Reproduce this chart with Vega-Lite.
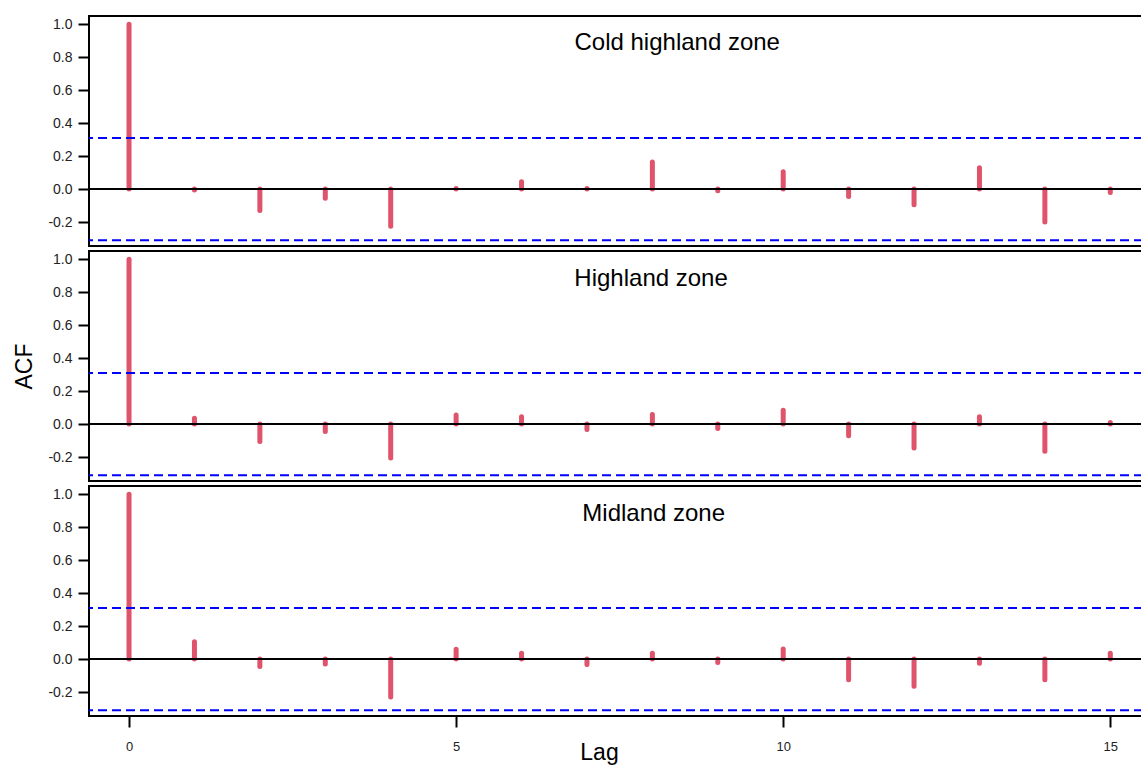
{
  "$schema": "https://vega.github.io/schema/vega-lite/v6.json",
  "background": "white",
  "padding": {"left": 12, "top": 15, "right": 0, "bottom": 0},
  "spacing": 3,
  "datasets": {
    "acf": [
      {"zone": "Cold highland zone", "lag": 0, "acf": 1.0},
      {"zone": "Cold highland zone", "lag": 1, "acf": -0.005},
      {"zone": "Cold highland zone", "lag": 2, "acf": -0.13},
      {"zone": "Cold highland zone", "lag": 3, "acf": -0.055},
      {"zone": "Cold highland zone", "lag": 4, "acf": -0.225},
      {"zone": "Cold highland zone", "lag": 5, "acf": 0.003},
      {"zone": "Cold highland zone", "lag": 6, "acf": 0.045},
      {"zone": "Cold highland zone", "lag": 7, "acf": 0.003},
      {"zone": "Cold highland zone", "lag": 8, "acf": 0.165},
      {"zone": "Cold highland zone", "lag": 9, "acf": -0.01},
      {"zone": "Cold highland zone", "lag": 10, "acf": 0.105},
      {"zone": "Cold highland zone", "lag": 11, "acf": -0.045},
      {"zone": "Cold highland zone", "lag": 12, "acf": -0.095},
      {"zone": "Cold highland zone", "lag": 13, "acf": 0.13},
      {"zone": "Cold highland zone", "lag": 14, "acf": -0.2},
      {"zone": "Cold highland zone", "lag": 15, "acf": -0.02},
      {"zone": "Highland zone", "lag": 0, "acf": 1.0},
      {"zone": "Highland zone", "lag": 1, "acf": 0.035},
      {"zone": "Highland zone", "lag": 2, "acf": -0.105},
      {"zone": "Highland zone", "lag": 3, "acf": -0.045},
      {"zone": "Highland zone", "lag": 4, "acf": -0.205},
      {"zone": "Highland zone", "lag": 5, "acf": 0.055},
      {"zone": "Highland zone", "lag": 6, "acf": 0.045},
      {"zone": "Highland zone", "lag": 7, "acf": -0.033},
      {"zone": "Highland zone", "lag": 8, "acf": 0.058},
      {"zone": "Highland zone", "lag": 9, "acf": -0.027},
      {"zone": "Highland zone", "lag": 10, "acf": 0.084},
      {"zone": "Highland zone", "lag": 11, "acf": -0.07},
      {"zone": "Highland zone", "lag": 12, "acf": -0.145},
      {"zone": "Highland zone", "lag": 13, "acf": 0.045},
      {"zone": "Highland zone", "lag": 14, "acf": -0.165},
      {"zone": "Highland zone", "lag": 15, "acf": 0.01},
      {"zone": "Midland zone", "lag": 0, "acf": 1.0},
      {"zone": "Midland zone", "lag": 1, "acf": 0.105},
      {"zone": "Midland zone", "lag": 2, "acf": -0.045},
      {"zone": "Midland zone", "lag": 3, "acf": -0.03},
      {"zone": "Midland zone", "lag": 4, "acf": -0.23},
      {"zone": "Midland zone", "lag": 5, "acf": 0.06},
      {"zone": "Midland zone", "lag": 6, "acf": 0.035},
      {"zone": "Midland zone", "lag": 7, "acf": -0.033},
      {"zone": "Midland zone", "lag": 8, "acf": 0.035},
      {"zone": "Midland zone", "lag": 9, "acf": -0.02},
      {"zone": "Midland zone", "lag": 10, "acf": 0.062},
      {"zone": "Midland zone", "lag": 11, "acf": -0.125},
      {"zone": "Midland zone", "lag": 12, "acf": -0.165},
      {"zone": "Midland zone", "lag": 13, "acf": -0.025},
      {"zone": "Midland zone", "lag": 14, "acf": -0.125},
      {"zone": "Midland zone", "lag": 15, "acf": 0.035}
    ]
  },
  "vconcat": [
    {
      "width": 1054, "height": 230,
      "layer": [
        {
          "data": {"name": "acf"},
          "transform": [{"filter": "datum.zone === 'Cold highland zone'"}],
          "mark": {"type": "rule", "color": "#DF536B", "strokeWidth": 5, "strokeCap": "round"},
          "encoding": {
            "x": {"field": "lag", "type": "quantitative", "scale": {"domain": [-0.612, 15.5], "nice": false, "zero": false}, "axis": null},
            "y": {"field": "acf", "type": "quantitative", "scale": {"domain": [-0.345, 1.05], "nice": false},
              "axis": {"values": [-0.2, 0, 0.2, 0.4, 0.6, 0.8, 1], "labelExpr": "datum.value < 0 ? '-' + format(-datum.value, '.1f') : format(datum.value, '.1f')", "title": null,
                "domain": false, "grid": false, "ticks": true, "tickSize": 11, "tickWidth": 2, "tickColor": "black", "labelOverlap": false,
                "labelFont": "Liberation Sans", "labelFontSize": 14, "labelColor": "#222", "labelPadding": 6}},
            "y2": {"datum": 0}
          }
        },
        {
          "data": {"values": [{}]},
          "mark": {"type": "rule", "color": "black", "strokeWidth": 2},
          "encoding": {"y": {"datum": 0, "type": "quantitative",
              "axis": {"values": [-0.2, 0, 0.2, 0.4, 0.6, 0.8, 1], "labelExpr": "datum.value < 0 ? '-' + format(-datum.value, '.1f') : format(datum.value, '.1f')", "title": null,
                "domain": false, "grid": false, "ticks": true, "tickSize": 11, "tickWidth": 2, "tickColor": "black", "labelOverlap": false,
                "labelFont": "Liberation Sans", "labelFontSize": 14, "labelColor": "#222", "labelPadding": 6}}}
        },
        {
          "data": {"values": [{}]},
          "mark": {"type": "rule", "color": "#0000FF", "strokeWidth": 2, "strokeDash": [9, 5]},
          "encoding": {"y": {"datum": 0.31, "type": "quantitative",
              "axis": {"values": [-0.2, 0, 0.2, 0.4, 0.6, 0.8, 1], "labelExpr": "datum.value < 0 ? '-' + format(-datum.value, '.1f') : format(datum.value, '.1f')", "title": null,
                "domain": false, "grid": false, "ticks": true, "tickSize": 11, "tickWidth": 2, "tickColor": "black", "labelOverlap": false,
                "labelFont": "Liberation Sans", "labelFontSize": 14, "labelColor": "#222", "labelPadding": 6}}}
        },
        {
          "data": {"values": [{}]},
          "mark": {"type": "rule", "color": "#0000FF", "strokeWidth": 2, "strokeDash": [9, 5]},
          "encoding": {"y": {"datum": -0.31, "type": "quantitative",
              "axis": {"values": [-0.2, 0, 0.2, 0.4, 0.6, 0.8, 1], "labelExpr": "datum.value < 0 ? '-' + format(-datum.value, '.1f') : format(datum.value, '.1f')", "title": null,
                "domain": false, "grid": false, "ticks": true, "tickSize": 11, "tickWidth": 2, "tickColor": "black", "labelOverlap": false,
                "labelFont": "Liberation Sans", "labelFontSize": 14, "labelColor": "#222", "labelPadding": 6}}}
        },
        {
          "data": {"values": [{}]},
          "mark": {"type": "text", "font": "Liberation Sans", "fontSize": 24, "color": "black", "align": "center", "baseline": "middle"},
          "encoding": {
            "x": {"datum": 8.38, "type": "quantitative", "axis": null},
            "y": {"datum": 0.889, "type": "quantitative",
              "axis": {"values": [-0.2, 0, 0.2, 0.4, 0.6, 0.8, 1], "labelExpr": "datum.value < 0 ? '-' + format(-datum.value, '.1f') : format(datum.value, '.1f')", "title": null,
                "domain": false, "grid": false, "ticks": true, "tickSize": 11, "tickWidth": 2, "tickColor": "black", "labelOverlap": false,
                "labelFont": "Liberation Sans", "labelFontSize": 14, "labelColor": "#222", "labelPadding": 6}},
            "text": {"value": "Cold highland zone"}
          }
        }
      ]
    },
    {
      "width": 1054, "height": 230,
      "layer": [
        {
          "data": {"name": "acf"},
          "transform": [{"filter": "datum.zone === 'Highland zone'"}],
          "mark": {"type": "rule", "color": "#DF536B", "strokeWidth": 5, "strokeCap": "round"},
          "encoding": {
            "x": {"field": "lag", "type": "quantitative", "scale": {"domain": [-0.612, 15.5], "nice": false, "zero": false}, "axis": null},
            "y": {"field": "acf", "type": "quantitative", "scale": {"domain": [-0.345, 1.05], "nice": false},
              "axis": {"values": [-0.2, 0, 0.2, 0.4, 0.6, 0.8, 1], "labelExpr": "datum.value < 0 ? '-' + format(-datum.value, '.1f') : format(datum.value, '.1f')",
                "title": "ACF", "titlePadding": 11, "titleFont": "Liberation Sans", "titleFontSize": 23, "titleFontWeight": "normal", "titleColor": "black",
                "domain": false, "grid": false, "ticks": true, "tickSize": 11, "tickWidth": 2, "tickColor": "black", "labelOverlap": false,
                "labelFont": "Liberation Sans", "labelFontSize": 14, "labelColor": "#222", "labelPadding": 6}},
            "y2": {"datum": 0}
          }
        },
        {
          "data": {"values": [{}]},
          "mark": {"type": "rule", "color": "black", "strokeWidth": 2},
          "encoding": {"y": {"datum": 0, "type": "quantitative",
              "axis": {"values": [-0.2, 0, 0.2, 0.4, 0.6, 0.8, 1], "labelExpr": "datum.value < 0 ? '-' + format(-datum.value, '.1f') : format(datum.value, '.1f')",
                "title": "ACF", "titlePadding": 11, "titleFont": "Liberation Sans", "titleFontSize": 23, "titleFontWeight": "normal", "titleColor": "black",
                "domain": false, "grid": false, "ticks": true, "tickSize": 11, "tickWidth": 2, "tickColor": "black", "labelOverlap": false,
                "labelFont": "Liberation Sans", "labelFontSize": 14, "labelColor": "#222", "labelPadding": 6}}}
        },
        {
          "data": {"values": [{}]},
          "mark": {"type": "rule", "color": "#0000FF", "strokeWidth": 2, "strokeDash": [9, 5]},
          "encoding": {"y": {"datum": 0.31, "type": "quantitative",
              "axis": {"values": [-0.2, 0, 0.2, 0.4, 0.6, 0.8, 1], "labelExpr": "datum.value < 0 ? '-' + format(-datum.value, '.1f') : format(datum.value, '.1f')",
                "title": "ACF", "titlePadding": 11, "titleFont": "Liberation Sans", "titleFontSize": 23, "titleFontWeight": "normal", "titleColor": "black",
                "domain": false, "grid": false, "ticks": true, "tickSize": 11, "tickWidth": 2, "tickColor": "black", "labelOverlap": false,
                "labelFont": "Liberation Sans", "labelFontSize": 14, "labelColor": "#222", "labelPadding": 6}}}
        },
        {
          "data": {"values": [{}]},
          "mark": {"type": "rule", "color": "#0000FF", "strokeWidth": 2, "strokeDash": [9, 5]},
          "encoding": {"y": {"datum": -0.31, "type": "quantitative",
              "axis": {"values": [-0.2, 0, 0.2, 0.4, 0.6, 0.8, 1], "labelExpr": "datum.value < 0 ? '-' + format(-datum.value, '.1f') : format(datum.value, '.1f')",
                "title": "ACF", "titlePadding": 11, "titleFont": "Liberation Sans", "titleFontSize": 23, "titleFontWeight": "normal", "titleColor": "black",
                "domain": false, "grid": false, "ticks": true, "tickSize": 11, "tickWidth": 2, "tickColor": "black", "labelOverlap": false,
                "labelFont": "Liberation Sans", "labelFontSize": 14, "labelColor": "#222", "labelPadding": 6}}}
        },
        {
          "data": {"values": [{}]},
          "mark": {"type": "text", "font": "Liberation Sans", "fontSize": 24, "color": "black", "align": "center", "baseline": "middle"},
          "encoding": {
            "x": {"datum": 7.98, "type": "quantitative", "axis": null},
            "y": {"datum": 0.883, "type": "quantitative",
              "axis": {"values": [-0.2, 0, 0.2, 0.4, 0.6, 0.8, 1], "labelExpr": "datum.value < 0 ? '-' + format(-datum.value, '.1f') : format(datum.value, '.1f')",
                "title": "ACF", "titlePadding": 11, "titleFont": "Liberation Sans", "titleFontSize": 23, "titleFontWeight": "normal", "titleColor": "black",
                "domain": false, "grid": false, "ticks": true, "tickSize": 11, "tickWidth": 2, "tickColor": "black", "labelOverlap": false,
                "labelFont": "Liberation Sans", "labelFontSize": 14, "labelColor": "#222", "labelPadding": 6}},
            "text": {"value": "Highland zone"}
          }
        }
      ]
    },
    {
      "width": 1054, "height": 230,
      "layer": [
        {
          "data": {"name": "acf"},
          "transform": [{"filter": "datum.zone === 'Midland zone'"}],
          "mark": {"type": "rule", "color": "#DF536B", "strokeWidth": 5, "strokeCap": "round"},
          "encoding": {
            "x": {"field": "lag", "type": "quantitative", "scale": {"domain": [-0.612, 15.5], "nice": false, "zero": false},
              "axis": {"values": [0, 5, 10, 15], "format": "d", "title": "Lag", "titleX": 510, "titleY": 43, "titleBaseline": "alphabetic",
                "titleFont": "Liberation Sans", "titleFontSize": 23, "titleFontWeight": "normal", "titleColor": "black",
                "domain": false, "grid": false, "ticks": true, "tickSize": 11, "tickWidth": 2, "tickColor": "black", "labelOverlap": false,
                "labelFont": "Liberation Sans", "labelFontSize": 13, "labelColor": "#222", "labelPadding": 13}},
            "y": {"field": "acf", "type": "quantitative", "scale": {"domain": [-0.345, 1.05], "nice": false},
              "axis": {"values": [-0.2, 0, 0.2, 0.4, 0.6, 0.8, 1], "labelExpr": "datum.value < 0 ? '-' + format(-datum.value, '.1f') : format(datum.value, '.1f')", "title": null,
                "domain": false, "grid": false, "ticks": true, "tickSize": 11, "tickWidth": 2, "tickColor": "black", "labelOverlap": false,
                "labelFont": "Liberation Sans", "labelFontSize": 14, "labelColor": "#222", "labelPadding": 6}},
            "y2": {"datum": 0}
          }
        },
        {
          "data": {"values": [{}]},
          "mark": {"type": "rule", "color": "black", "strokeWidth": 2},
          "encoding": {"y": {"datum": 0, "type": "quantitative",
              "axis": {"values": [-0.2, 0, 0.2, 0.4, 0.6, 0.8, 1], "labelExpr": "datum.value < 0 ? '-' + format(-datum.value, '.1f') : format(datum.value, '.1f')", "title": null,
                "domain": false, "grid": false, "ticks": true, "tickSize": 11, "tickWidth": 2, "tickColor": "black", "labelOverlap": false,
                "labelFont": "Liberation Sans", "labelFontSize": 14, "labelColor": "#222", "labelPadding": 6}}}
        },
        {
          "data": {"values": [{}]},
          "mark": {"type": "rule", "color": "#0000FF", "strokeWidth": 2, "strokeDash": [9, 5]},
          "encoding": {"y": {"datum": 0.31, "type": "quantitative",
              "axis": {"values": [-0.2, 0, 0.2, 0.4, 0.6, 0.8, 1], "labelExpr": "datum.value < 0 ? '-' + format(-datum.value, '.1f') : format(datum.value, '.1f')", "title": null,
                "domain": false, "grid": false, "ticks": true, "tickSize": 11, "tickWidth": 2, "tickColor": "black", "labelOverlap": false,
                "labelFont": "Liberation Sans", "labelFontSize": 14, "labelColor": "#222", "labelPadding": 6}}}
        },
        {
          "data": {"values": [{}]},
          "mark": {"type": "rule", "color": "#0000FF", "strokeWidth": 2, "strokeDash": [9, 5]},
          "encoding": {"y": {"datum": -0.31, "type": "quantitative",
              "axis": {"values": [-0.2, 0, 0.2, 0.4, 0.6, 0.8, 1], "labelExpr": "datum.value < 0 ? '-' + format(-datum.value, '.1f') : format(datum.value, '.1f')", "title": null,
                "domain": false, "grid": false, "ticks": true, "tickSize": 11, "tickWidth": 2, "tickColor": "black", "labelOverlap": false,
                "labelFont": "Liberation Sans", "labelFontSize": 14, "labelColor": "#222", "labelPadding": 6}}}
        },
        {
          "data": {"values": [{}]},
          "mark": {"type": "text", "font": "Liberation Sans", "fontSize": 24, "color": "black", "align": "center", "baseline": "middle"},
          "encoding": {
            "x": {"datum": 8.02, "type": "quantitative",
              "axis": {"values": [0, 5, 10, 15], "format": "d", "title": "Lag", "titleX": 510, "titleY": 43, "titleBaseline": "alphabetic",
                "titleFont": "Liberation Sans", "titleFontSize": 23, "titleFontWeight": "normal", "titleColor": "black",
                "domain": false, "grid": false, "ticks": true, "tickSize": 11, "tickWidth": 2, "tickColor": "black", "labelOverlap": false,
                "labelFont": "Liberation Sans", "labelFontSize": 13, "labelColor": "#222", "labelPadding": 13}},
            "y": {"datum": 0.88, "type": "quantitative",
              "axis": {"values": [-0.2, 0, 0.2, 0.4, 0.6, 0.8, 1], "labelExpr": "datum.value < 0 ? '-' + format(-datum.value, '.1f') : format(datum.value, '.1f')", "title": null,
                "domain": false, "grid": false, "ticks": true, "tickSize": 11, "tickWidth": 2, "tickColor": "black", "labelOverlap": false,
                "labelFont": "Liberation Sans", "labelFontSize": 14, "labelColor": "#222", "labelPadding": 6}},
            "text": {"value": "Midland zone"}
          }
        }
      ]
    }
  ],
  "config": {
    "view": {"stroke": "black", "strokeWidth": 2}
  }
}
